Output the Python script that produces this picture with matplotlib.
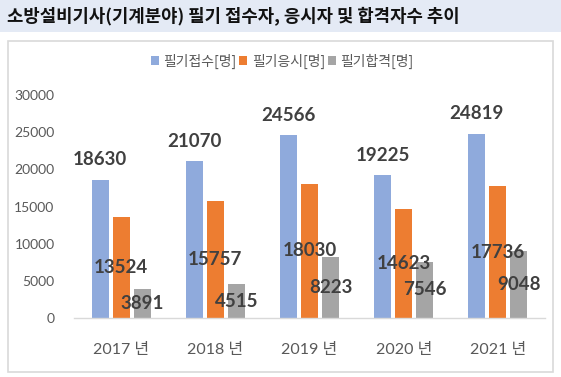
import matplotlib
matplotlib.use("Agg")
import matplotlib.pyplot as plt
import numpy as np
from matplotlib.patches import Rectangle

plt.rcParams['font.family'] = ['Noto Sans CJK KR', 'DejaVu Sans']

categories = ["2017 년", "2018 년", "2019 년", "2020 년", "2021 년"]
series_names = ["필기접수[명]", "필기응시[명]", "필기합격[명]"]
applied = [18630, 21070, 24566, 19225, 24819]
taken = [13524, 15757, 18030, 14623, 17736]
passed = [3891, 4515, 8223, 7546, 9048]
colors = ["#8FAADC", "#ED7D31", "#A5A5A5"]
title = "소방설비기사(기계분야) 필기 접수자, 응시자 및 합격자수 추이"

W, H = 561, 377
fig = plt.figure(figsize=(W / 100, H / 100), dpi=100)
fig.patch.set_facecolor("white")

# title band
fig.patches.append(Rectangle((0, 1 - 32 / H), 1, 32 / H, transform=fig.transFigure,
                             facecolor="#E4EAF5", edgecolor="none", zorder=0))
fig.text(7 / W, 1 - 16 / H, title, fontsize=12.8, fontweight="bold", color="#111111",
         va="center", ha="left")
# chart border
fig.patches.append(Rectangle((7.5 / W, 1 - 372 / H), (553 - 7.5) / W, (372 - 41) / H,
                             transform=fig.transFigure, facecolor="none",
                             edgecolor="#D9D9D9", lw=1.2, zorder=0))

ax = fig.add_axes([74 / W, (H - 318) / H, (545 - 74) / W, (318 - 95) / H])
x = np.arange(len(categories))
bw = 0.181
off = 0.223
data = [applied, taken, passed]
bars = []
for i, (vals, c, name) in enumerate(zip(data, colors, series_names)):
    b = ax.bar(x + (i - 1) * off, vals, width=bw, color=c, label=name, zorder=2)
    bars.append(b)

lab_kw = dict(fontsize=13.5, fontweight="bold", color="#404040", family=["Lato", "DejaVu Sans"])
for rect, v in zip(bars[0], applied):
    ax.annotate(str(v), (rect.get_x() + rect.get_width() / 2, v), xytext=(0, 8),
                textcoords="offset points", ha="center", va="bottom", zorder=5, **lab_kw)
for b, vals in zip(bars[1:], data[1:]):
    for rect, v in zip(b, vals):
        ax.text(rect.get_x() + rect.get_width() / 2, v / 2, str(v), ha="center",
                va="center", zorder=5, **lab_kw)

ax.set_xlim(-0.5, len(categories) - 0.5)
ax.set_ylim(0, 30000)
ax.set_yticks(range(0, 30001, 5000))
ax.set_xticks(x)
ax.set_xticklabels(categories, fontsize=11.5, color="#595959",
                   family=["Lato", "Noto Sans CJK KR"])
for lab in ax.get_yticklabels():
    lab.set_fontsize(10)
    lab.set_color("#595959")
    lab.set_family(["Lato", "DejaVu Sans"])
ax.tick_params(axis="both", length=0)
ax.tick_params(axis="y", pad=14)
ax.tick_params(axis="x", pad=18)
for s in ["top", "right", "left"]:
    ax.spines[s].set_visible(False)
ax.spines["bottom"].set_color("#D9D9D9")
ax.spines["bottom"].set_linewidth(1)
ax.set_facecolor("none")

fig.legend(handles=bars, labels=series_names, loc="center", bbox_to_anchor=(282 / W, 1 - 61 / H),
           ncol=3, frameon=False, fontsize=10, handlelength=0.6, handleheight=0.6,
           handletextpad=0.3, columnspacing=0.2, labelcolor="#595959")

fig.savefig("out.png", dpi=100)
